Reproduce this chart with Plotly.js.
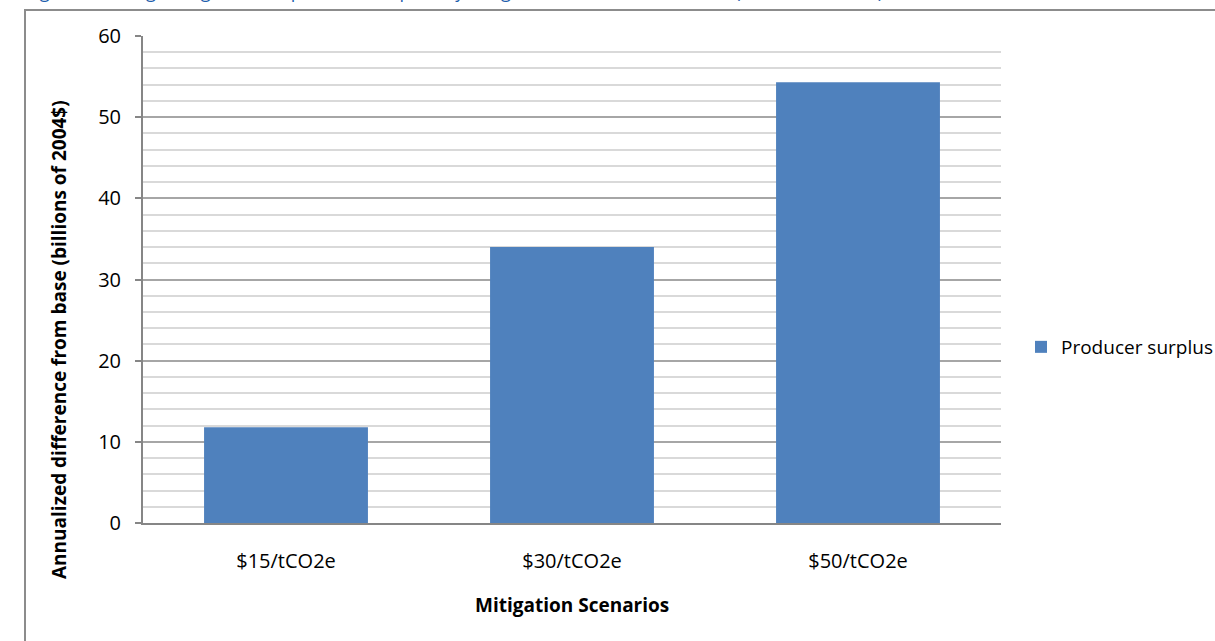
<!DOCTYPE html>
<html>
<head>
<meta charset="utf-8">
<script src="https://cdn.plot.ly/plotly-3.0.1.min.js"></script>
<style>html,body{margin:0;padding:0;background:#fff;}#chart{width:1215px;height:641px;}</style>
</head>
<body>
<div id="chart"></div>
<script>
const scenarios = ["$15/tCO2e", "$30/tCO2e", "$50/tCO2e"];
const producerSurplus = [11.8, 34.0, 54.3];
const seriesName = "Producer surplus";
const yTitle = "Annualized difference from base (billions of 2004$)";
const xTitle = "Mitigation Scenarios";
const figTitle = "Figure 4. Change in agricultural producer surplus, by mitigation scenario, annualized (billions of 2004$)";

const FONT = "'Open Sans', 'Noto Sans', sans-serif";
const W = 1215, H = 641;
const L = 143, R = 1001, T = 36, B = 523;
const pw = R - L, ph = B - T;
const px = x => (x - L) / pw;
const py = y => (B - y) / ph;

const trace = {
  type: "bar",
  x: scenarios,
  y: producerSurplus,
  name: seriesName,
  marker: {color: "#4F81BD"},
  showlegend: true
};

const layout = {
  width: W, height: H,
  margin: {l: L, r: W - R, t: T, b: H - B, pad: 0, autoexpand: false},
  paper_bgcolor: "#fff", plot_bgcolor: "#fff",
  font: {family: FONT, size: 18, color: "#000"},
  bargap: 0.427,
  showlegend: true,
  legend: {x: px(1021), y: py(347), xanchor: "left", yanchor: "middle",
           font: {family: FONT, size: 19, color: "#000"}, bgcolor: "rgba(0,0,0,0)"},
  xaxis: {
    type: "category",
    showgrid: false,
    showline: true, linecolor: "#868686", linewidth: 2,
    ticks: "", ticklabelstandoff: 19,
    tickfont: {family: FONT, size: 20, color: "#000"},
    zeroline: false, automargin: false
  },
  yaxis: {
    range: [0, 60], dtick: 10, tick0: 0,
    showline: true, linecolor: "#868686", linewidth: 2,
    ticks: "outside", ticklen: 6, tickcolor: "#868686", tickwidth: 2,
    ticklabelstandoff: 10,
    showgrid: true, gridcolor: "#a6a6a6", gridwidth: 2,
    minor: {dtick: 2, showgrid: true, gridcolor: "#d9d9d9", gridwidth: 2, ticks: ""},
    zeroline: false, automargin: false,
    tickfont: {family: FONT, size: 20, color: "#000"}
  },
  annotations: [
    {text: yTitle, xref: "paper", yref: "paper", x: px(59), y: py(340),
     xanchor: "center", yanchor: "middle", textangle: -90, showarrow: false,
     font: {family: FONT, size: 19, color: "#000", weight: "bold"}},
    {text: xTitle, xref: "paper", yref: "paper", x: px(572), y: py(605),
     xanchor: "center", yanchor: "middle", showarrow: false,
     font: {family: FONT, size: 19, color: "#000", weight: "bold"}},
    {text: figTitle, xref: "paper", yref: "paper", x: px(24), y: py(5),
     xanchor: "left", yanchor: "bottom", showarrow: false,
     font: {family: FONT, size: 18, color: "#1F5FAD"}}
  ],
  shapes: [
    {type: "line", xref: "paper", yref: "paper", x0: px(25), x1: px(25), y0: py(10), y1: py(645),
     line: {color: "#8c8c8c", width: 2}},
    {type: "line", xref: "paper", yref: "paper", x0: px(24), x1: px(1220), y0: py(10), y1: py(10),
     line: {color: "#8c8c8c", width: 2}}
  ]
};

Plotly.newPlot("chart", [trace], layout, {displayModeBar: false, staticPlot: true});
</script>
</body>
</html>
